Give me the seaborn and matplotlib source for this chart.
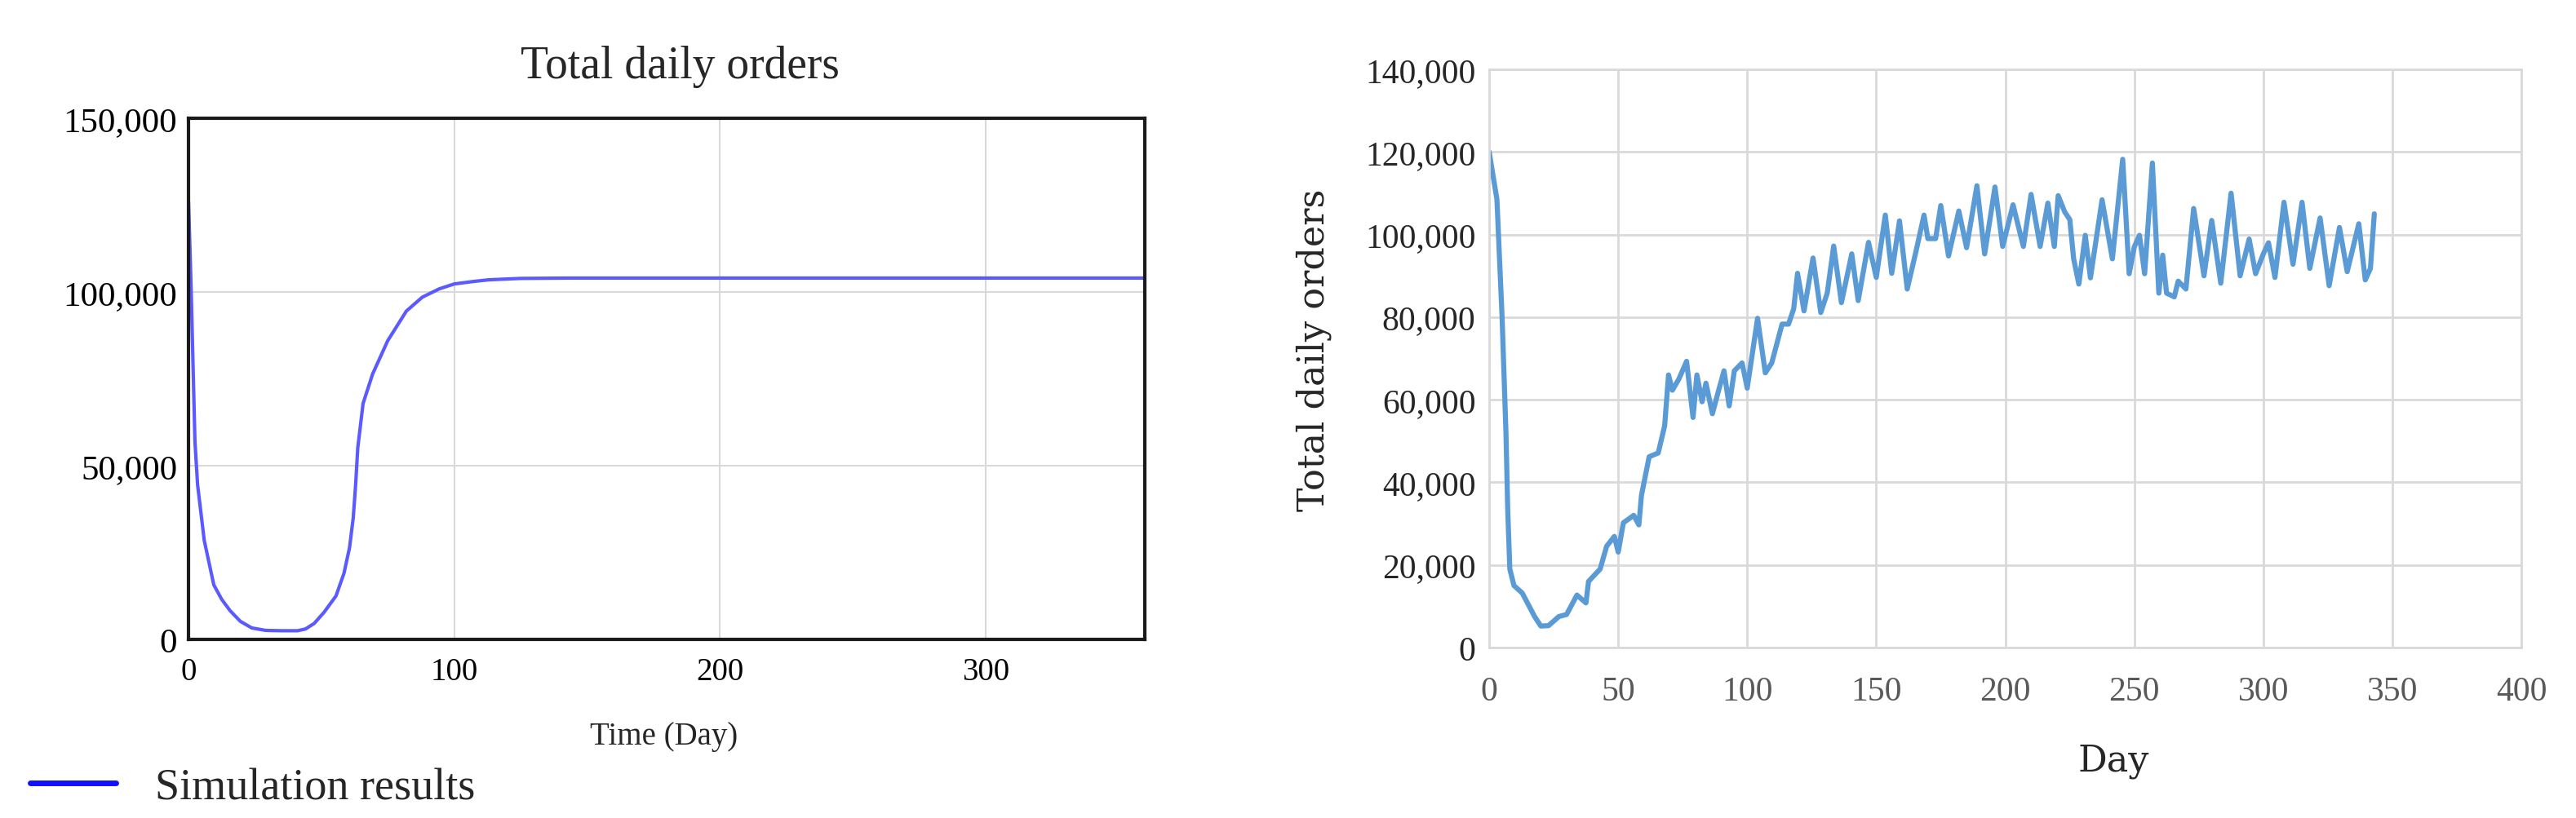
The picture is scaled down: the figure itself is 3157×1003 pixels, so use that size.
import pandas as pd
import matplotlib
matplotlib.use("Agg")
import matplotlib.pyplot as plt
import seaborn as sns
from matplotlib.ticker import StrMethodFormatter

# Left panel: simulation results (days, total daily orders)
SIM_DAYS = [0, 1, 2.4, 3.4, 5.9, 9.5, 12.5, 15.6, 19.5, 23.8, 29, 35, 41, 44, 47.3,
            51, 55.5, 58.5, 60.6, 62.0, 62.9, 63.7, 65.7, 69.3, 75, 82, 88, 94.4,
            100, 107, 113, 125, 143, 200, 300, 360]
SIM_ORDERS = [126000, 100000, 57000, 44500, 28500, 15700, 11500, 8300, 5200, 3300,
              2600, 2500, 2500, 3000, 4600, 7800, 12500, 19000, 26400, 35000, 44500,
              55100, 67900, 76400, 86000, 94500, 98500, 100900, 102300, 103000,
              103500, 103900, 104000, 104000, 104000, 104000]

# Right panel: actual total daily orders
ORDER_DAYS = [0, 3, 5, 6.5, 7.2, 8, 9.6, 12.8, 17.6, 20, 23, 27, 30, 34, 37.5, 38.5,
              43, 45.5, 48.5, 50, 52, 56, 58, 59, 62, 65.5, 68, 69.5, 71, 73.5,
              76.5, 79, 80.5, 82.5, 84, 86.5, 88.5, 91, 93, 95, 98, 100, 104, 107,
              109.5, 113.5, 116, 118, 119.5, 122, 125.5, 128.5, 131, 133.5, 136.5,
              140.5, 143, 147, 150, 153.5, 156, 159, 162, 165.5, 168.5, 170, 173,
              175, 178, 182, 185, 189, 192, 196, 199, 203, 207, 210, 213.5, 216.5,
              219, 220.5, 223, 225, 226.5, 228.5, 231, 233, 237.5, 241.5, 245.5,
              248, 250, 252, 254, 257, 259.5, 261, 262.5, 265.5, 267, 270, 273,
              277, 280, 283.5, 287.5, 291, 294.5, 297, 300, 302, 304.5, 308,
              311.5, 315, 318, 322, 325.5, 329.5, 332.5, 337, 339.5, 341.5, 343]
ORDER_VALUES = [120000, 108500, 80000, 52000, 33000, 19000, 15000, 13200, 7500, 5200,
                5300, 7500, 8000, 12700, 10800, 16000, 19000, 24500, 26900, 23100,
                30200, 32000, 29700, 36800, 46200, 47100, 53700, 66000, 62300, 65000,
                69300, 55700, 66000, 59500, 64000, 56600, 61300, 67000, 58500, 67000,
                68900, 62800, 79700, 66500, 68900, 78300, 78300, 82000, 90600, 81500,
                94300, 81100, 85800, 97200, 83500, 95300, 84000, 98100, 89600, 104700,
                90600, 103300, 86800, 96200, 104700, 99000, 99000, 107000, 94800,
                105700, 96800, 111800, 95300, 111500, 97100, 107200, 97100, 109700,
                97100, 107600, 97100, 109400, 105500, 103600, 94100, 88000, 99800,
                89500, 108400, 94100, 118200, 90500, 97000, 99800, 90500, 117300,
                85800, 95000, 85800, 84900, 88700, 86800, 106300, 90000, 103400,
                88200, 110000, 90000, 98900, 90500, 95300, 98000, 89600, 107800,
                92800, 107800, 91800, 104000, 87600, 101700, 91000, 102600, 89000,
                91800, 105000]

LEFT_XTICKS = [0, 100, 200, 300]
LEFT_YTICKS = [0, 50000, 100000, 150000]
RIGHT_XTICKS = [0, 50, 100, 150, 200, 250, 300, 350, 400]
RIGHT_YTICKS = [0, 20000, 40000, 60000, 80000, 100000, 120000, 140000]

sns.set_style("white")
plt.rcParams["font.family"] = ["Liberation Serif", "DejaVu Serif"]

sim_df = pd.DataFrame({"day": SIM_DAYS, "orders": SIM_ORDERS})
orders_df = pd.DataFrame({"day": ORDER_DAYS, "orders": ORDER_VALUES})

fig = plt.figure(figsize=(31.57, 10.04), dpi=100)

# ---- left: simulation ----
ax1 = fig.add_axes([0.0732, 0.2181, 0.3712, 0.6365])
sns.lineplot(data=sim_df, x="day", y="orders", ax=ax1, color="#5a5aff",
             linewidth=3, estimator=None, label="Simulation results", legend=False)
ax1.set_xlim(0, 360)
ax1.set_ylim(0, 150000)
ax1.set_xticks(LEFT_XTICKS)
ax1.set_yticks(LEFT_YTICKS)
ax1.yaxis.set_major_formatter(StrMethodFormatter("{x:,.0f}"))
ax1.grid(True, color="#d9d9d9", linewidth=1.5)
ax1.tick_params(axis="y", length=0, pad=10, labelsize=31, colors="black")
ax1.tick_params(axis="x", length=0, pad=15, labelsize=28, colors="black")
for sp in ax1.spines.values():
    sp.set_visible(True)
    sp.set_color("#1a1a1a")
    sp.set_linewidth(3)
ax1.set_ylabel("")
ax1.set_xlabel("Time (Day)", fontsize=28, va="center")
ax1.xaxis.set_label_coords(0.497, -0.185)
ax1.text(0.514, 1.100, "Total daily orders", transform=ax1.transAxes,
         ha="center", va="center", fontsize=40)

handles, labels = ax1.get_legend_handles_labels()
leg = fig.legend(handles, labels, loc="center left",
                 bbox_to_anchor=(37 / 3157, 1 - 967 / 1004), frameon=False,
                 fontsize=39, handlelength=1.93, handletextpad=0.9,
                 borderpad=0, borderaxespad=0)
for h in leg.get_lines():
    h.set_color("#1010ff")
    h.set_linewidth(5)

# ---- right: actual data ----
ax2 = fig.add_axes([0.5781, 0.2082, 0.4007, 0.7062])
sns.lineplot(data=orders_df, x="day", y="orders", ax=ax2, color="#5b9bd5",
             linewidth=4.5, estimator=None)
ax2.set_xlim(0, 400)
ax2.set_ylim(0, 140000)
ax2.set_xticks(RIGHT_XTICKS)
ax2.set_yticks(RIGHT_YTICKS)
ax2.yaxis.set_major_formatter(StrMethodFormatter("{x:,.0f}"))
ax2.grid(True, color="#d9d9d9", linewidth=2)
ax2.tick_params(axis="y", length=0, pad=12, labelsize=30, colors="#262626")
ax2.tick_params(axis="x", length=0, pad=25, labelsize=30, colors="#595959")
for sp in ax2.spines.values():
    sp.set_visible(True)
    sp.set_color("#d9d9d9")
    sp.set_linewidth(2)
ax2.set_xlabel("Day", fontsize=32, family="DejaVu Serif", va="center")
ax2.xaxis.set_label_coords(0.605, -0.195)
ax2.set_ylabel("Total daily orders", fontsize=32, family="DejaVu Serif", va="center")
ax2.yaxis.set_label_coords(-0.17, 0.516)

fig.savefig("out.png", dpi=100)
